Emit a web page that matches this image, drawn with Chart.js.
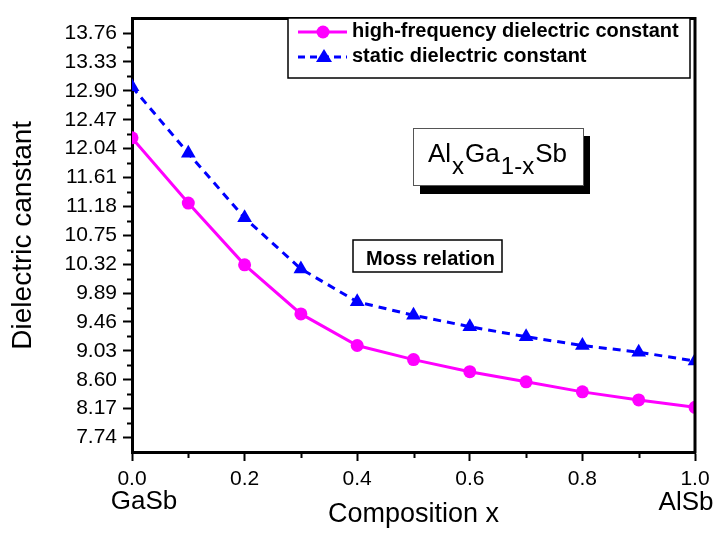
<!DOCTYPE html>
<html>
<head>
<meta charset="utf-8">
<title>AlxGa1-xSb dielectric constant</title>
<script src="https://cdn.jsdelivr.net/npm/chart.js@4.4.0/dist/chart.umd.min.js"></script>
<style>
    html, body { margin: 0; padding: 0; background: #fff; }
    #wrap { width: 718px; height: 541px; }
</style>
</head>
<body>
<div id="wrap"><canvas id="chartDielectric" width="718" height="541"></canvas></div>
<script>
// ---- DATA ----
const compositionX = [0.0, 0.1, 0.2, 0.3, 0.4, 0.5, 0.6, 0.7, 0.8, 0.9, 1.0];
const highFreq = [12.20, 11.23, 10.31, 9.58, 9.11, 8.90, 8.72, 8.57, 8.42, 8.30, 8.19];
const staticConst = [12.96, 11.97, 11.01, 10.25, 9.76, 9.56, 9.39, 9.24, 9.11, 9.01, 8.88];
const seriesNames = ['high-frequency dielectric constant', 'static dielectric constant'];

const yTickValues = [7.74, 8.17, 8.60, 9.03, 9.46, 9.89, 10.32, 10.75, 11.18, 11.61, 12.04, 12.47, 12.90, 13.33, 13.76];
const xTickValues = [0.0, 0.2, 0.4, 0.6, 0.8, 1.0];
const endLabels = ['GaSb', 'AlSb'];

const FONT = 'Arial, "Liberation Sans", sans-serif';
const MAGENTA = '#ff00ff';
const BLUE = '#0000ff';

const toPoints = vals => compositionX.map((x, i) => ({ x: x, y: vals[i] }));

// frame, minor ticks, legend and the text boxes
const decor = {
    id: 'decor',
    afterDraw(chart) {
        const { ctx, chartArea: a, scales: { x, y } } = chart;
        ctx.save();

        // top / right frame
        ctx.strokeStyle = '#000';
        ctx.lineWidth = 3;
        ctx.beginPath();
        ctx.moveTo(a.left, a.top);
        ctx.lineTo(a.right, a.top);
        ctx.lineTo(a.right, a.bottom + 1.5);
        ctx.stroke();

        // minor ticks
        ctx.lineWidth = 2;
        ctx.beginPath();
        yTickValues.forEach(v => {
            const p = Math.round(y.getPixelForValue(v + 0.215)) + 0.5;
            if (p < a.top + 2) return;
            ctx.moveTo(a.left - 5, p);
            ctx.lineTo(a.left, p);
        });
        for (let i = 0; i < xTickValues.length - 1; i++) {
            const p = Math.round(x.getPixelForValue((xTickValues[i] + xTickValues[i + 1]) / 2)) + 0.5;
            ctx.moveTo(p, a.bottom);
            ctx.lineTo(p, a.bottom + 6);
        }
        ctx.stroke();

        // end member names under the axis
        ctx.fillStyle = '#000';
        ctx.font = '26px ' + FONT;
        ctx.textBaseline = 'middle';
        ctx.textAlign = 'center';
        ctx.fillText(endLabels[0], x.getPixelForValue(0) + 12, 502);
        ctx.fillText(endLabels[1], x.getPixelForValue(1) - 9, 503);

        // legend
        ctx.fillStyle = '#fff';
        ctx.fillRect(288, 18, 402, 60);
        ctx.lineWidth = 1.5;
        ctx.strokeStyle = '#000';
        ctx.strokeRect(288, 18, 402, 60);

        ctx.lineWidth = 3;
        ctx.strokeStyle = MAGENTA;
        ctx.beginPath();
        ctx.moveTo(298, 32); ctx.lineTo(347, 32);
        ctx.stroke();
        ctx.fillStyle = MAGENTA;
        ctx.beginPath();
        ctx.arc(323, 32, 6.5, 0, Math.PI * 2);
        ctx.fill();

        ctx.strokeStyle = BLUE;
        ctx.setLineDash([7, 5]);
        ctx.beginPath();
        ctx.moveTo(298, 57); ctx.lineTo(347, 57);
        ctx.stroke();
        ctx.setLineDash([]);
        ctx.fillStyle = BLUE;
        ctx.beginPath();
        ctx.moveTo(324, 49); ctx.lineTo(332, 62); ctx.lineTo(316, 62);
        ctx.closePath();
        ctx.fill();

        ctx.fillStyle = '#000';
        ctx.font = 'bold 20px ' + FONT;
        ctx.textAlign = 'left';
        ctx.textBaseline = 'alphabetic';
        ctx.fillText(seriesNames[0], 352, 37);
        ctx.fillText(seriesNames[1], 352, 62);

        // AlxGa1-xSb box with drop shadow
        ctx.fillStyle = '#000';
        ctx.fillRect(420, 136, 170, 58);
        ctx.fillStyle = '#fff';
        ctx.fillRect(413, 128, 170, 57);
        ctx.lineWidth = 1;
        ctx.strokeStyle = '#555';
        ctx.strokeRect(413.5, 128.5, 170, 57);

        ctx.fillStyle = '#000';
        let cx = 428;
        const parts = [['Al', 0], ['x', 1], ['Ga', 0], ['1-x', 1], ['Sb', 0]];
        parts.forEach(([t, sub]) => {
            ctx.font = (sub ? '24px ' : '26px ') + FONT;
            ctx.fillText(t, cx, sub ? 174 : 162);
            cx += ctx.measureText(t).width + 1;
        });

        // Moss relation box
        ctx.fillStyle = '#fff';
        ctx.fillRect(353, 240, 149, 32);
        ctx.lineWidth = 1.5;
        ctx.strokeStyle = '#000';
        ctx.strokeRect(353, 240, 149, 32);
        ctx.fillStyle = '#000';
        ctx.font = 'bold 20px ' + FONT;
        ctx.fillText('Moss relation', 366, 265);

        ctx.restore();
    }
};

const ctxDielectric = document.getElementById('chartDielectric').getContext('2d');

new Chart(ctxDielectric, {
    type: 'line',
    data: {
        datasets: [{
            label: seriesNames[0],
            data: toPoints(highFreq),
            borderColor: MAGENTA,
            backgroundColor: MAGENTA,
            borderWidth: 3,
            pointStyle: 'circle',
            pointRadius: 6.5,
            pointBorderWidth: 0,
            pointHoverRadius: 6.5,
            tension: 0,
            clip: 0
        }, {
            label: seriesNames[1],
            data: toPoints(staticConst),
            borderColor: BLUE,
            backgroundColor: BLUE,
            borderWidth: 3,
            borderDash: [8, 6],
            pointStyle: 'triangle',
            pointRadius: 8.5,
            pointBorderWidth: 0,
            pointHoverRadius: 8.5,
            tension: 0,
            clip: 0
        }]
    },
    options: {
        responsive: false,
        animation: false,
        devicePixelRatio: 1,
        layout: { padding: { top: 10, right: 23, left: 0, bottom: 0 } },
        plugins: { legend: { display: false }, tooltip: { enabled: false } },
        scales: {
            x: {
                type: 'linear',
                min: 0,
                max: 1,
                afterBuildTicks: s => { s.ticks = xTickValues.map(v => ({ value: v })); },
                afterFit: s => { s.height = 89; },
                grid: { drawOnChartArea: false, color: '#000', tickLength: 9, tickWidth: 2 },
                border: { display: true, color: '#000', width: 3 },
                ticks: {
                    color: '#000',
                    padding: 6,
                    maxRotation: 0,
                    font: { family: FONT, size: 21 },
                    callback: v => Number(v).toFixed(1)
                },
                title: {
                    display: true,
                    text: 'Composition x',
                    color: '#000',
                    font: { family: FONT, size: 27 },
                    padding: { top: 0, bottom: 10 }
                }
            },
            y: {
                type: 'linear',
                min: 7.525,
                max: 13.975,
                afterBuildTicks: s => { s.ticks = yTickValues.map(v => ({ value: v })); },
                afterFit: s => { s.width = 132; },
                grid: { drawOnChartArea: false, color: '#000', tickLength: 9, tickWidth: 2 },
                border: { display: true, color: '#000', width: 3 },
                ticks: {
                    color: '#000',
                    padding: 6,
                    font: { family: FONT, size: 21 },
                    callback: v => Number(v).toFixed(2)
                },
                title: {
                    display: true,
                    text: 'Dielectric canstant',
                    color: '#000',
                    font: { family: FONT, size: 28 },
                    padding: { top: 6, bottom: 0 }
                }
            }
        }
    },
    plugins: [decor]
});
</script>
</body>
</html>
